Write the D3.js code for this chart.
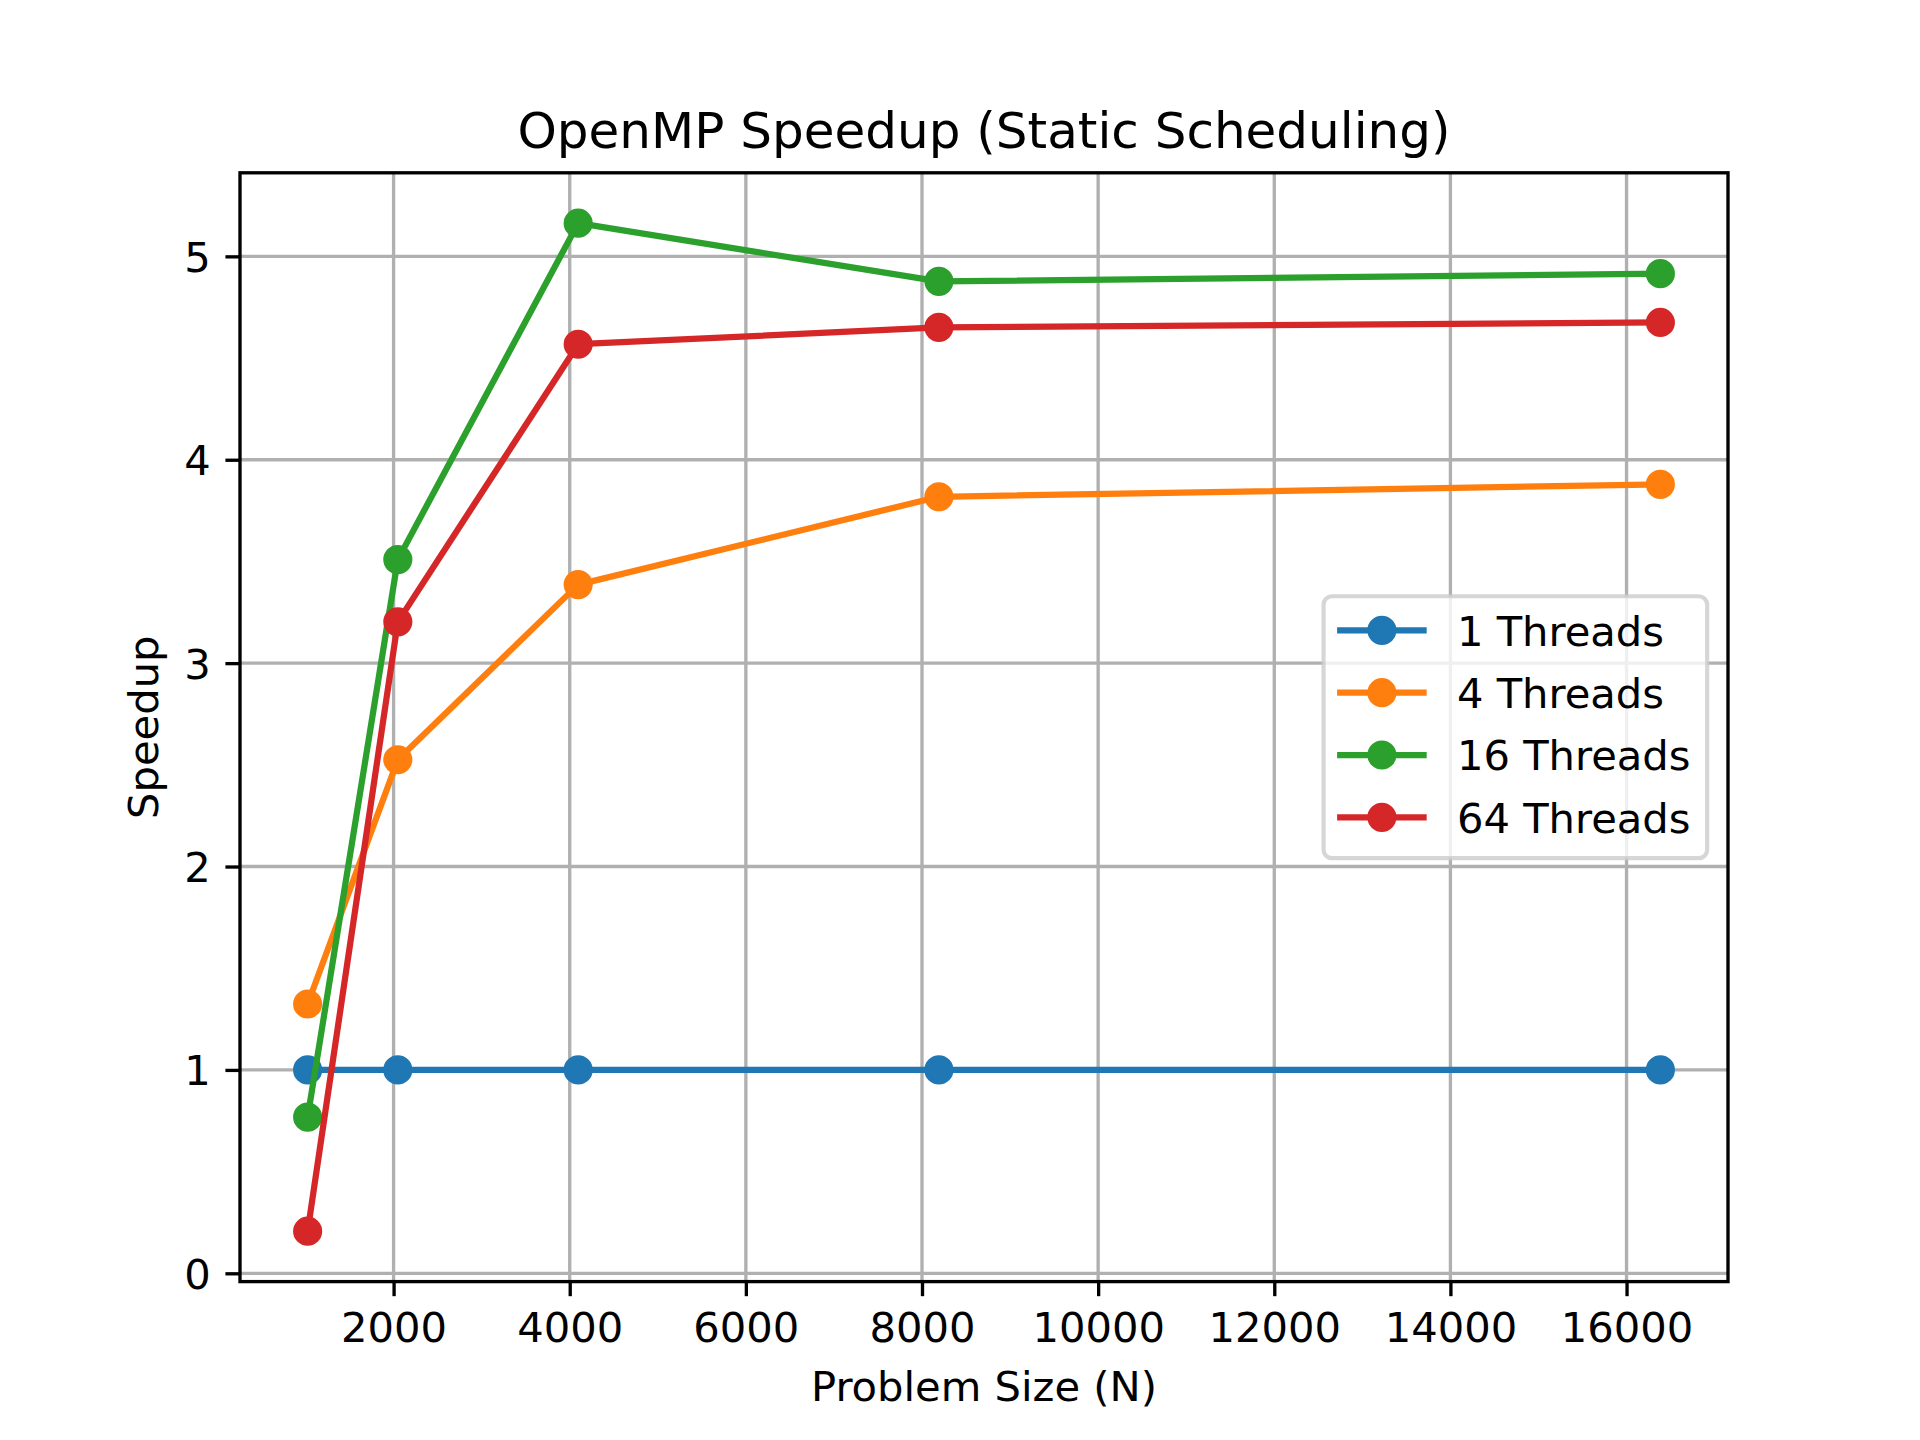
<!DOCTYPE html>
<html>
<head>
<meta charset="utf-8">
<script src="https://cdn.jsdelivr.net/npm/d3@7"></script>
<style>
  html, body { margin: 0; padding: 0; background: #ffffff; }
  svg { display: block; }
  text { font-family: "DejaVu Sans", sans-serif; fill: #000; }
</style>
</head>
<body>
<svg id="chart" width="1920" height="1440"></svg>
<script>
// ---- Data ----
const problemSizes = [1024, 2048, 4096, 8192, 16384];
const seriesNames = ["1 Threads", "4 Threads", "16 Threads", "64 Threads"];
const speedup1 = [1.0, 1.0, 1.0, 1.0, 1.0];
const speedup4 = [1.324, 2.525, 3.386, 3.818, 3.879];
const speedup16 = [0.768, 3.509, 5.163, 4.877, 4.915];
const speedup64 = [0.207, 3.203, 4.568, 4.651, 4.675];
const seriesColors = ["#1f77b4", "#ff7f0e", "#2ca02c", "#d62728"];
const xTickValues = [2000, 4000, 6000, 8000, 10000, 12000, 14000, 16000];
const yTickValues = [0, 1, 2, 3, 4, 5];
const titleText = "OpenMP Speedup (Static Scheduling)";
const xLabelText = "Problem Size (N)";
const yLabelText = "Speedup";

const allSeries = [speedup1, speedup4, speedup16, speedup64].map((vals, i) => ({
  name: seriesNames[i], color: seriesColors[i],
  points: problemSizes.map((x, j) => ({ x, y: vals[j] }))
}));

// ---- Layout (matplotlib defaults at 300 dpi) ----
const W = 1920, H = 1440;
const axL = 0.125 * W, axR = 0.9 * W, axT = (1 - 0.88) * H, axB = (1 - 0.11) * H;
const pt = 300 / 72;
const fs = 10 * pt;           // 41.67px
const lw = 1.5 * pt;          // line width
const spineW = 0.8 * pt;
const tickLen = 3.5 * pt;
const tickPad = 3.5 * pt;
const markerR = 3 * pt;       // markersize 6pt -> radius 3pt
const markerEW = 1.0 * pt;

const svg = d3.select("#chart");
svg.append("rect").attr("width", W).attr("height", H).attr("fill", "#fff");

// scales with 5% margins
const xExt = d3.extent(problemSizes);
const xm = (xExt[1] - xExt[0]) * 0.05;
const allY = [].concat(speedup1, speedup4, speedup16, speedup64);
const yExt = d3.extent(allY);
const ym = (yExt[1] - yExt[0]) * 0.05;
const xS = d3.scaleLinear().domain([xExt[0] - xm, xExt[1] + xm]).range([axL, axR]);
const yS = d3.scaleLinear().domain([yExt[0] - ym, yExt[1] + ym]).range([axB, axT]);

// grid
const grid = svg.append("g");
grid.selectAll("line.gx").data(xTickValues).enter().append("line")
  .attr("x1", d => xS(d)).attr("x2", d => xS(d)).attr("y1", axT).attr("y2", axB)
  .attr("stroke", "#b0b0b0").attr("stroke-width", spineW);
grid.selectAll("line.gy").data(yTickValues).enter().append("line")
  .attr("y1", d => yS(d)).attr("y2", d => yS(d)).attr("x1", axL).attr("x2", axR)
  .attr("stroke", "#b0b0b0").attr("stroke-width", spineW);

// series
const lineGen = d3.line().x(d => xS(d.x)).y(d => yS(d.y));
const plot = svg.append("g");
allSeries.forEach(s => {
  const g = plot.append("g");
  g.append("path").datum(s.points).attr("d", lineGen)
    .attr("fill", "none").attr("stroke", s.color).attr("stroke-width", lw)
    .attr("stroke-linecap", "square").attr("stroke-linejoin", "round");
  g.selectAll("circle").data(s.points).enter().append("circle")
    .attr("cx", d => xS(d.x)).attr("cy", d => yS(d.y)).attr("r", markerR)
    .attr("fill", s.color).attr("stroke", s.color).attr("stroke-width", markerEW);
});

// axes
const xAxis = svg.append("g").attr("transform", `translate(0,${axB})`)
  .call(d3.axisBottom(xS).tickValues(xTickValues).tickFormat(d3.format("d"))
    .tickSizeInner(tickLen).tickSizeOuter(0).tickPadding(tickPad));
xAxis.select(".domain").remove();
xAxis.selectAll(".tick line").attr("stroke", "#000").attr("stroke-width", spineW);
xAxis.selectAll(".tick text").attr("y", tickLen + tickPad + 0.76 * fs).attr("dy", null)
  .style("font-size", fs + "px").style("font-family", "DejaVu Sans").attr("fill", "#000");

const yAxis = svg.append("g").attr("transform", `translate(${axL},0)`)
  .call(d3.axisLeft(yS).tickValues(yTickValues).tickFormat(d3.format("d"))
    .tickSizeInner(tickLen).tickSizeOuter(0).tickPadding(tickPad));
yAxis.select(".domain").remove();
yAxis.selectAll(".tick line").attr("stroke", "#000").attr("stroke-width", spineW);
yAxis.selectAll(".tick text").attr("x", -(tickLen + tickPad)).attr("dy", "0.36em")
  .style("font-size", fs + "px").style("font-family", "DejaVu Sans").attr("fill", "#000");

// spines
svg.append("rect").attr("x", axL).attr("y", axT).attr("width", axR - axL).attr("height", axB - axT)
  .attr("fill", "none").attr("stroke", "#000").attr("stroke-width", spineW);

// labels
svg.append("text").attr("x", (axL + axR) / 2).attr("y", axT - 6 * pt)
  .attr("text-anchor", "middle").style("font-size", (12 * pt) + "px").text(titleText);
const xTickBottom = axB + tickLen + tickPad + 0.996 * fs;
svg.append("text").attr("x", (axL + axR) / 2).attr("y", xTickBottom + 4 * pt + 0.76 * fs)
  .attr("text-anchor", "middle").style("font-size", fs + "px").text(xLabelText);
const yTickLeft = axL - tickLen - tickPad - 0.636 * fs;
const yLabX = yTickLeft - 4 * pt - 0.236 * fs;
svg.append("text").attr("transform", `translate(${yLabX},${(axT + axB) / 2}) rotate(-90)`)
  .attr("text-anchor", "middle").style("font-size", fs + "px").text(yLabelText);

// legend (center right)
const rowH = 0.996 * fs;
const labelSp = 0.5 * fs;
const borderPad = 0.4 * fs;
const handleLen = 2.0 * fs;
const handlePad = 0.8 * fs;
const n = allSeries.length;
const legend = svg.append("g");
const frame = legend.append("rect");
// measure widest label
const measure = svg.append("text").style("font-size", fs + "px");
let textW = 0;
seriesNames.forEach(nm => { measure.text(nm); textW = Math.max(textW, measure.node().getComputedTextLength()); });
measure.remove();
const boxW = borderPad * 2 + handleLen + handlePad + textW;
const boxH = borderPad * 2 + n * rowH + (n - 1) * labelSp;
const boxRight = axR - 0.5 * fs;
const boxLeft = boxRight - boxW;
const boxTop = (axT + axB) / 2 - boxH / 2;
frame.attr("x", boxLeft).attr("y", boxTop).attr("width", boxW).attr("height", boxH)
  .attr("rx", 0.2 * fs).attr("ry", 0.2 * fs)
  .attr("fill", "#fff").attr("fill-opacity", 0.8)
  .attr("stroke", "#cccccc").attr("stroke-opacity", 0.8).attr("stroke-width", 1.0 * pt);
allSeries.forEach((s, i) => {
  const cy = boxTop + borderPad + i * (rowH + labelSp) + rowH / 2 - 0.08 * fs;
  const hx0 = boxLeft + borderPad;
  const hx1 = hx0 + handleLen;
  legend.append("line").attr("x1", hx0).attr("x2", hx1).attr("y1", cy).attr("y2", cy)
    .attr("stroke", s.color).attr("stroke-width", lw).attr("stroke-linecap", "square");
  legend.append("circle").attr("cx", (hx0 + hx1) / 2).attr("cy", cy).attr("r", markerR)
    .attr("fill", s.color).attr("stroke", s.color).attr("stroke-width", markerEW);
  legend.append("text").attr("x", hx1 + handlePad).attr("y", cy + 0.37 * fs)
    .style("font-size", fs + "px").text(s.name);
});
</script>
</body>
</html>
